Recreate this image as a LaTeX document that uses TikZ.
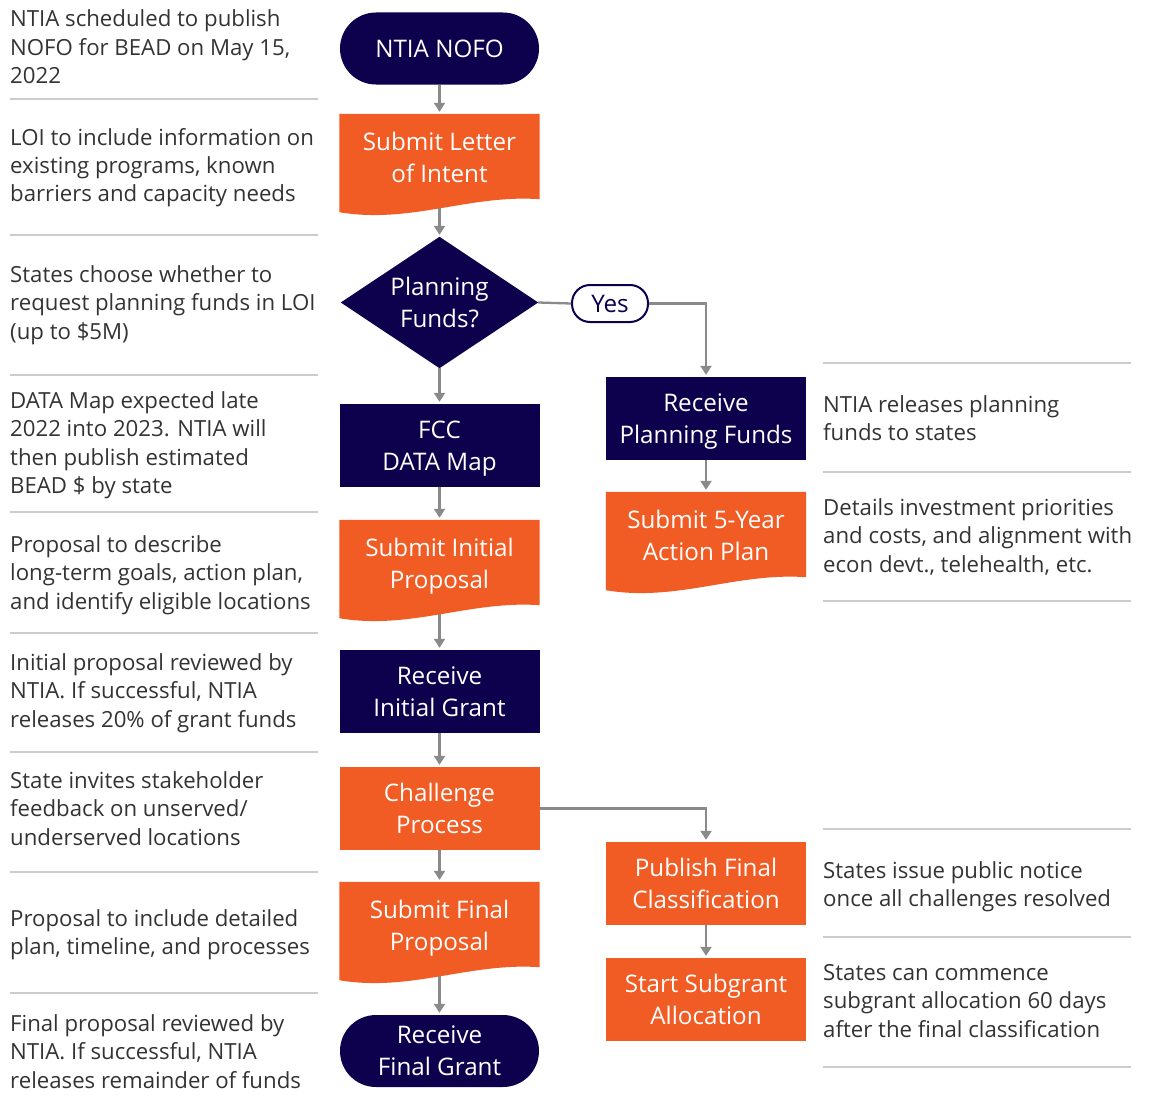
\documentclass[tikz,border=0pt]{standalone}
\usepackage{fontspec}
\setmainfont{Open Sans}
\usetikzlibrary{arrows.meta, backgrounds, calc}
\definecolor{navy}{HTML}{0D004D}
\definecolor{orng}{HTML}{F15B24}
\definecolor{arrgray}{HTML}{8A8A8C}
\definecolor{sepgray}{HTML}{CCCCCC}
\definecolor{txt}{HTML}{333333}
\begin{document}
\begin{tikzpicture}[x=1pt,y=-1pt,
  box/.style={rectangle, minimum width=200pt, minimum height=83pt, inner sep=0pt,
    text=white, align=center, text depth=0pt, font=\fontsize{24.2}{32}\selectfont},
  navybox/.style={box, fill=navy},
  orangebox/.style={box, fill=orng},
  docbox/.style={box, minimum height=86pt},
  term/.style={box, fill=navy, rounded corners=36pt, minimum width=199pt, minimum height=72pt},
  decision/.style={box, minimum width=197pt, minimum height=131pt},
  yesbox/.style={rectangle, rounded corners=18pt, draw=navy, line width=2pt, fill=white,
    minimum width=76pt, minimum height=37pt, inner sep=0pt, text=navy, text depth=0pt,
    font=\fontsize{24.2}{32}\selectfont},
  flow/.style={draw=arrgray, line width=2.3pt, shorten >=2pt, -{Triangle[length=9pt,width=11pt]}},
  flowline/.style={draw=arrgray, line width=2.3pt},
  note/.style={anchor=base west, align=left, inner sep=0pt, text=txt, font=\fontsize{22.2}{28.4}\selectfont},
  sepline/.style={draw=sepgray, line width=1.5pt}
]
\useasboundingbox (0,0) rectangle (1155,1108);

% main column
\node[term] (nofo) at (439.5,48.5) {NTIA NOFO};
\node[docbox] (loi) at (439.5,157) {Submit Letter\\of Intent};
\node[decision] (pf) at (439.5,302.5) {Planning\\Funds?};
\node[yesbox] (yes) at (610,303.5) {Yes};
\node[navybox] (fcc) at (439.5,445.5) {FCC\\DATA Map};
\node[docbox] (sip) at (439.5,563) {Submit Initial\\Proposal};
\node[navybox] (rig) at (439.5,691.5) {Receive\\Initial Grant};
\node[orangebox] (chal) at (439.5,808.5) {Challenge\\Process};
\node[docbox] (sfp) at (439.5,925) {Submit Final\\Proposal};
\node[term] (rfg) at (439.5,1051) {Receive\\Final Grant};

% right column
\node[navybox] (rpf) at (706,418.5) {Receive\\Planning Funds};
\node[docbox] (plan) at (706,535) {Submit 5-Year\\Action Plan};
\node[orangebox] (pfc) at (706,883.5) {Publish Final\\Classification};
\node[orangebox] (ssa) at (706,999.5) {Start Subgrant\\Allocation};

% shapes behind
\begin{scope}[on background layer]
  \fill[navy] (pf.north) -- (pf.east) -- (pf.south) -- (pf.west) -- cycle;
  \foreach \d in {loi,sip,sfp,plan}{
    \fill[orng] (\d.north west) -- (\d.north east) -- ($(\d.south east)+(0,-1)$)
      .. controls ($(\d.south east)+(-70,-6)$) and ($(\d.south west)+(71,24)$) ..
      ($(\d.south west)+(0,12)$) -- cycle;
  }
\end{scope}

% connectors
\draw[flow] (nofo) -- (loi);
\draw[flow] ([yshift=-8pt]loi.south) -- (pf.north);
\draw[flow] (pf.south) -- (fcc.north);
\draw[flow] (fcc) -- (sip);
\draw[flow] ([yshift=-8pt]sip.south) -- (rig.north);
\draw[flow] (rig) -- (chal);
\draw[flow] (chal) -- (sfp);
\draw[flow] ([yshift=-8pt]sfp.south) -- (rfg.north);
\draw[flowline] (pf.east) -- (yes.west);
\draw[flow] (yes.east) -| (rpf.north);
\draw[flow] (rpf) -- (plan);
\draw[flow] (chal.east) -| (pfc.north);
\draw[flow] (pfc) -- (ssa);

% left notes (positioned by the baseline of their last line)
\node[note] (l1) at (10,83.5) {NTIA scheduled to publish\\NOFO for BEAD on May 15,\\2022};
\node[note] (l2) at (10,201.8) {LOI to include information on\\existing programs, known\\barriers and capacity needs};
\node[note] (l3) at (10,339.3) {States choose whether to\\request planning funds in LOI\\(up to \$5M)};
\node[note] (l4) at (10,493.7) {DATA Map expected late\\2022 into 2023. NTIA will\\then publish estimated\\BEAD \$ by state};
\node[note] (l5) at (10,609.3) {Proposal to describe\\long-term goals, action plan,\\and identify eligible locations};
\node[note] (l6) at (10,727.3) {Initial proposal reviewed by\\NTIA. If successful, NTIA\\releases 20\% of grant funds};
\node[note] (l7) at (10,845.3) {State invites stakeholder\\feedback on unserved/\\underserved locations};
\node[note] (l8) at (10,954.9) {Proposal to include detailed\\plan, timeline, and processes};
\node[note] (l9) at (10,1088.3) {Final proposal reviewed by\\NTIA. If successful, NTIA\\releases remainder of funds};

% right notes
\node[note] (r1) at (823,440.9) {NTIA releases planning\\funds to states};
\node[note] (r2) at (823,572.3) {Details investment priorities\\and costs, and alignment with\\econ devt., telehealth, etc.};
\node[note] (r3) at (823,906.9) {States issue public notice\\once all challenges resolved};
\node[note] (r4) at (823,1037.3) {States can commence\\subgrant allocation 60 days\\after the final classification};

% separators
\foreach \y in {99,235,375,512,633,752,872,993}
  \draw[sepline] (10,\y) -- (318,\y);
\foreach \y in {363,472,601,829,937,1067}
  \draw[sepline] (823,\y) -- (1131,\y);
\end{tikzpicture}
\end{document}
